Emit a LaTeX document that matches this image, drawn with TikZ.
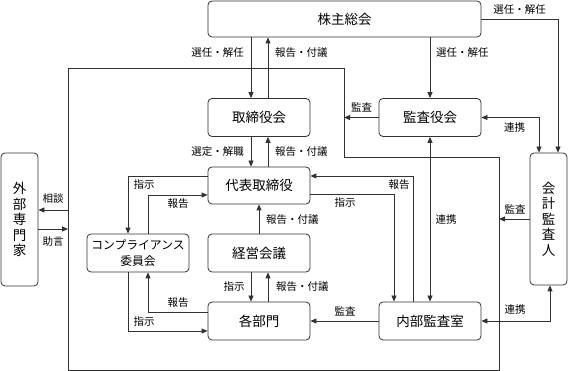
\documentclass[tikz,border=0pt]{standalone}
\usepackage{fontspec}
\setmainfont{Noto Sans CJK JP}
\usetikzlibrary{arrows.meta}
\definecolor{ink}{RGB}{50,50,50}

\tikzset{
  box/.style={draw=ink,line width=0.8pt,rounded corners=4pt,minimum width=102pt,minimum height=38pt,
    inner sep=1pt,align=center,font=\fontsize{13.5}{15}\selectfont},
  tallbox/.style={box,minimum width=37pt,minimum height=133pt,font=\fontsize{13.5}{15.5}\selectfont},
  lbl/.style={font=\fontsize{10.5}{12}\selectfont,inner sep=0pt},
  arr/.style={draw=ink,line width=0.8pt,-{Triangle[length=6pt,width=5pt]}},
  arrs/.style={draw=ink,line width=0.8pt,{Triangle[length=6pt,width=5pt]}-{Triangle[length=6pt,width=5pt]}},
}

\begin{document}
\begin{tikzpicture}[x=1pt,y=-1pt]
  \useasboundingbox (0,0) rectangle (568,371);

  % boxes
  \node[box,minimum width=273pt,minimum height=36pt] (kabunushi) at (344.5,19) {株主総会};
  \node[box] (torishimari) at (259,117.5) {取締役会};
  \node[box] (kansayaku) at (430,117.5) {監査役会};
  \node[box,minimum height=37pt] (daihyo) at (259,185.5) {代表取締役};
  \node[box] (keiei) at (259,253) {経営会議};
  \node[box] (bumon) at (259,321) {各部門};
  \node[box] (naibu) at (430,321) {内部監査室};
  \node[box,font=\fontsize{11.8}{15.5}\selectfont] (comp) at (138,253) {コンプライアンス\\委員会};
  \node[tallbox] (gaibu) at (19.5,219.5) {外\\部\\専\\門\\家};
  \node[tallbox,minimum height=132pt] (kaikei) at (548.5,219) {会\\計\\監\\査\\人};

  % frame
  \coordinate (fa) at (68,68);
  \coordinate (fb) at (344,68);
  \coordinate (fc) at (344,157);
  \coordinate (fd) at (499,157);
  \coordinate (fe) at (499,370);
  \coordinate (ff) at (68,370);
  \draw[ink,line width=0.8pt] (fa) -- (fb) -- (fc) -- (fd) -- (fe) -- (ff) -- cycle;

  % shareholders
  \draw[arr] (kabunushi.south -| 251,0) -- (torishimari.north -| 251,0);
  \draw[arr] (torishimari.north -| 268,0) -- (kabunushi.south -| 268,0);
  \draw[arr] (kabunushi.south -| kansayaku.north) -- (kansayaku.north);
  \draw[arr] (kabunushi.east) -| (kaikei.north -| 558,0);
  \node[lbl,anchor=east] (l1) at (244,53) {選任・解任};
  \node[lbl,anchor=west] (l2) at (275,53) {報告・付議};
  \node[lbl,anchor=west] (l3) at (436,53) {選任・解任};
  \node[lbl] (l4) at (519.5,10) {選任・解任};

  % board
  \draw[arr] (torishimari.south -| 251,0) -- (daihyo.north -| 251,0);
  \draw[arr] (daihyo.north -| 268,0) -- (torishimari.south -| 268,0);
  \node[lbl,anchor=east] (l5) at (244,152) {選定・解職};
  \node[lbl,anchor=west] (l6) at (275,152) {報告・付議};

  % auditors
  \draw[arr] (kansayaku.west) -- (kansayaku.west -| fb);
  \draw[arrs] (kansayaku.east) -| (kaikei.north -| 539,0);
  \draw[arrs] (kansayaku.south) -- (naibu.north);
  \node[lbl] (l7) at (361.5,107) {監査};
  \node[lbl] (l8) at (514.5,128) {連携};
  \node[lbl] (l9) at (446,220) {連携};

  % representative director
  \draw[arr] (daihyo.east |- 0,194) -| (naibu.north -| 394,0);
  \draw[arr] (naibu.north -| 413,0) |- (daihyo.east |- 0,176);
  \draw[arr] (daihyo.west |- 0,176) -| (comp.north -| 128,0);
  \draw[arr] (comp.north -| 148,0) |- (daihyo.west |- 0,195);
  \node[lbl] (l10) at (345,203) {指示};
  \node[lbl] (l11) at (399,185) {報告};
  \node[lbl] (l12) at (144,185) {指示};
  \node[lbl] (l13) at (178,204) {報告};

  % outside experts
  \draw[arr] (fa |- 0,210) -- (gaibu.east |- 0,210);
  \draw[arr] (gaibu.east |- 0,229) -- (fa |- 0,229);
  \node[lbl] (l14) at (53,199) {相談};
  \node[lbl] (l15) at (53,242) {助言};

  % management meeting
  \draw[arr] (keiei.north) -- (daihyo.south);
  \draw[arr] (keiei.south -| 251,0) -- (bumon.north -| 251,0);
  \draw[arr] (bumon.north -| 268,0) -- (keiei.south -| 268,0);
  \node[lbl,anchor=west] (l16) at (266,220) {報告・付議};
  \node[lbl] (l17) at (234,287) {指示};
  \node[lbl,anchor=west] (l18) at (276,287) {報告・付議};

  % departments
  \draw[arr] (bumon.west |- 0,312) -| (comp.south -| 148,0);
  \draw[arr] (comp.south -| 128,0) |- (bumon.west |- 0,331);
  \draw[arr] (naibu.west) -- (bumon.east);
  \draw[arrs] (naibu.east) -| (kaikei.south -| 550,0);
  \draw[arr] (kaikei.west |- 0,219) -- (fd |- 0,219);
  \node[lbl] (l19) at (178,303) {報告};
  \node[lbl] (l20) at (144,322) {指示};
  \node[lbl] (l21) at (345,311) {監査};
  \node[lbl] (l22) at (515,310) {連携};
  \node[lbl] (l23) at (515,209) {監査};
\end{tikzpicture}
\end{document}
